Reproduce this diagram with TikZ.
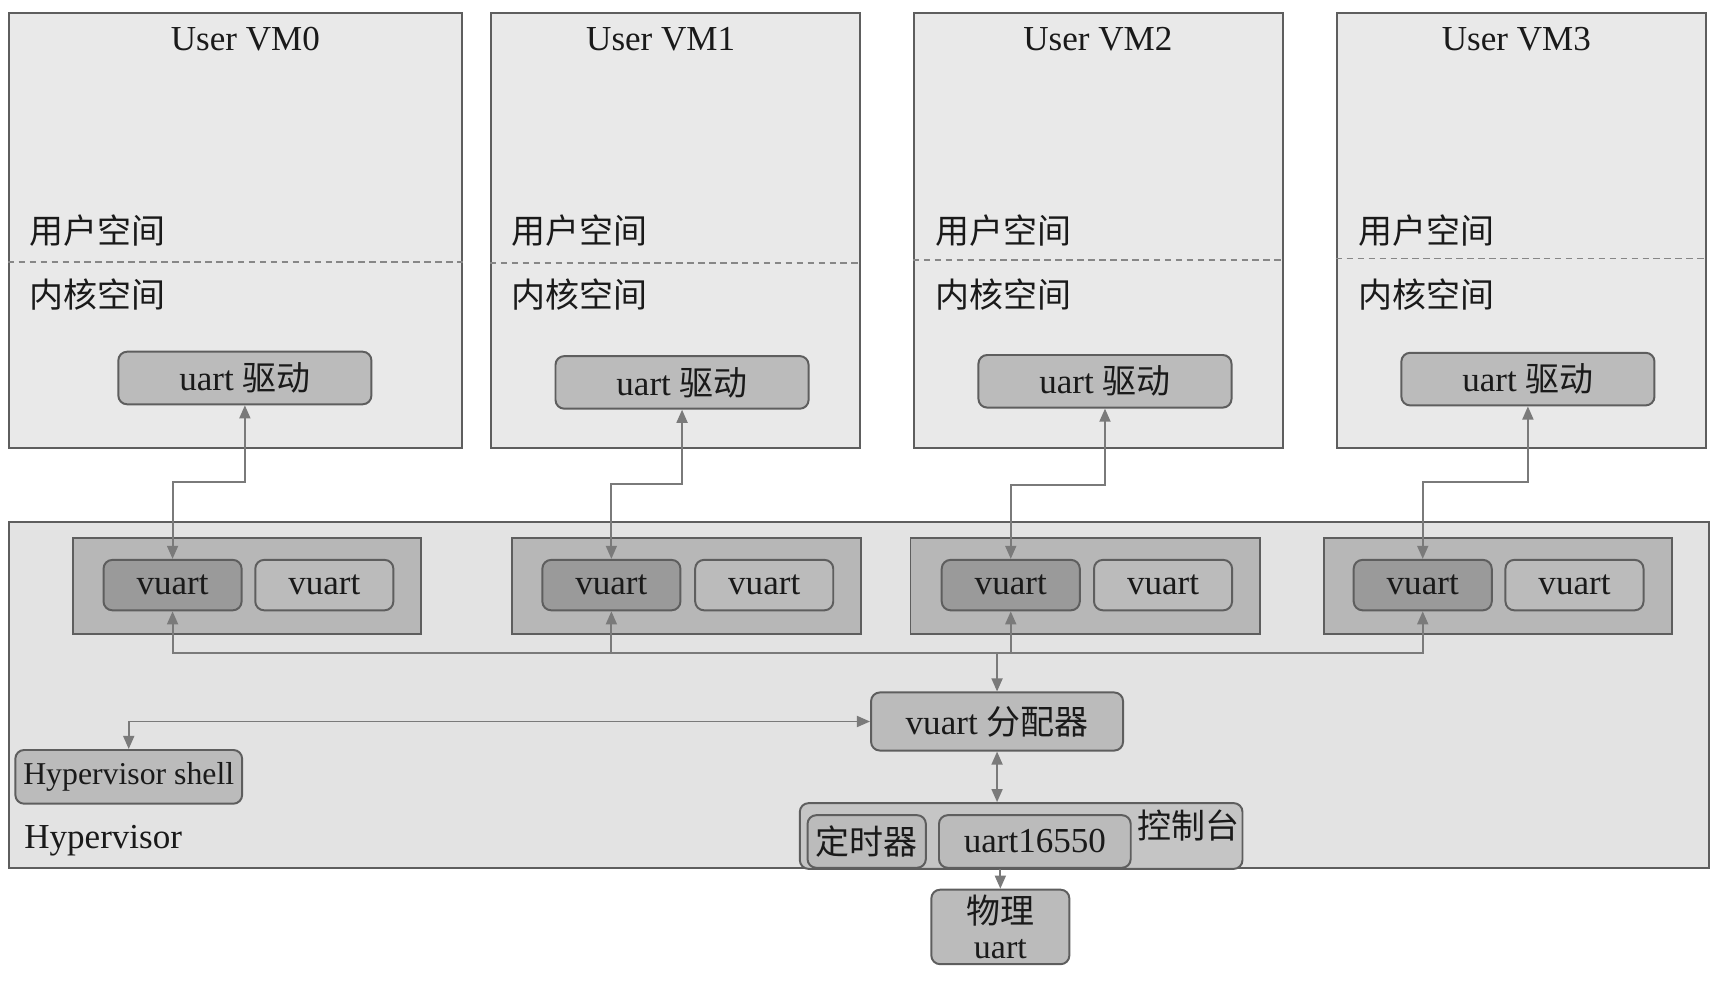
\documentclass[tikz,border=0pt]{standalone}
\usepackage{fontspec}
\setmainfont{Liberation Serif}
\newfontfamily\cjk{Noto Sans CJK SC}
\usetikzlibrary{arrows.meta}
\definecolor{vmfill}{HTML}{E9E9E9}
\definecolor{hvfill}{HTML}{E3E3E3}
\definecolor{grpfill}{HTML}{B7B7B7}
\definecolor{boxfill}{HTML}{BBBBBB}
\definecolor{darkfill}{HTML}{9A9A9A}
\definecolor{edge}{HTML}{5E5E5E}
\definecolor{conn}{HTML}{7A7A7A}
\definecolor{txt}{HTML}{1A1A1A}
\tikzset{
  vmbox/.style={draw=edge, line width=1.8pt, fill=vmfill, inner sep=0pt, minimum width=337pt, minimum height=397pt},
  hvbox/.style={draw=edge, line width=1.8pt, fill=hvfill, inner sep=0pt},
  grpbox/.style={draw=edge, line width=1.8pt, fill=grpfill, inner sep=0pt, minimum height=88pt},
  rbox/.style={draw=edge, line width=1.8pt, fill=boxfill, rounded corners=8pt, inner sep=0pt, text=txt, font=\fontsize{32}{36}\selectfont},
  dbox/.style={rbox, fill=darkfill},
  lbl/.style={inner sep=0pt, text=txt, font=\fontsize{32}{36}\selectfont},
  cjklbl/.style={inner sep=0pt, text=txt, font=\fontsize{31}{36}\selectfont\cjk},
  cn/.style={draw=conn, line width=1.8pt, {Triangle[length=12pt,width=10pt]}-{Triangle[length=12pt,width=10pt]}},
  cnin/.style={draw=conn, line width=1.8pt, {Triangle[length=12pt,width=10pt]}-},
  cnout/.style={draw=conn, line width=1.8pt, -{Triangle[length=12pt,width=10pt]}},
  sep/.style={draw=conn!90, line width=1.5pt, dash pattern=on 6pt off 4pt},
}
\begin{document}
\begin{tikzpicture}[x=1pt,y=-1pt]
\useasboundingbox[fill=white] (0,0) rectangle (1568,895);

% User VMs
\node[vmbox, minimum width=414pt] (vm0) at (215,210.5) {};
\node[vmbox] (vm1) at (616.5,210.5) {};
\node[vmbox] (vm2) at (1002.5,210.5) {};
\node[vmbox] (vm3) at (1388.5,210.5) {};

\node[lbl] (t0) at (224,36) {User VM0};
\node[lbl] (t1) at (603,36) {User VM1};
\node[lbl] (t2) at (1002,36) {User VM2};
\node[lbl] (t3) at (1384,36) {User VM3};

\foreach \v/\x/\y in {vm0/27/239, vm1/467/240, vm2/854/237, vm3/1240/236}{
  \node[cjklbl, anchor=west] (\v-us) at (\x,210) {用户空间};
  \node[cjklbl, anchor=west] (\v-ks) at (\x,269) {内核空间};
  \draw[sep] (\v.west |- 0,\y) -- (\v.east |- 0,\y);
}

\node[rbox, minimum width=231pt, minimum height=48pt] (d0) at (223.5,345) {uart {\cjk\fontsize{31}{36}\selectfont 驱动}};
\node[rbox, minimum width=231pt, minimum height=48pt] (d1) at (622.5,349) {uart {\cjk\fontsize{31}{36}\selectfont 驱动}};
\node[rbox, minimum width=231pt, minimum height=48pt] (d2) at (1008.5,348) {uart {\cjk\fontsize{31}{36}\selectfont 驱动}};
\node[rbox, minimum width=231pt, minimum height=48pt] (d3) at (1394.5,346) {uart {\cjk\fontsize{31}{36}\selectfont 驱动}};

% Hypervisor
\node[hvbox, minimum width=1552pt, minimum height=316pt] (hv) at (784,634) {};
\node[lbl, anchor=west] (hvl) at (22,767) {Hypervisor};

\node[grpbox, minimum width=317pt] (g0) at (225.5,535) {};
\node[grpbox, minimum width=319pt] (g1) at (626.5,535) {};
\node[grpbox, minimum width=319pt] (g2) at (990.5,535) {};
\node[grpbox, minimum width=318pt] (g3) at (1367,535) {};

\foreach \i/\dx/\lx in {0/157.5/296, 1/558/697.5, 2/922.5/1061.5, 3/1298.5/1437}{
  \node[dbox, minimum width=126pt, minimum height=46pt] (v\i) at (\dx,534) {vuart};
  \node[rbox, minimum width=126pt, minimum height=46pt] (w\i) at (\lx,534) {vuart};
}

% upper connectors
\coordinate (k0) at (157.5,440);
\coordinate (k1) at (558,442);
\coordinate (k2) at (922.5,443);
\coordinate (k3) at (1298.5,440);
\foreach \i in {0,1,2,3}{
  \draw[cn] (d\i.south) |- (k\i) -- (v\i.north);
}

% allocator
\node[rbox, minimum width=230pt, minimum height=53pt] (al) at (910,658.5) {vuart {\cjk\fontsize{31}{36}\selectfont 分配器}};
\coordinate (hub) at (910,596);
\foreach \i in {0,1,2,3}{
  \draw[cnin] (v\i.south) |- (hub);
}
\draw[cnout] (hub) -- (al.north);

\node[rbox, minimum width=207pt, minimum height=49pt, font=\fontsize{29}{32}\selectfont] (sh) at (117.5,709) {Hypervisor shell};
\draw[cn] (sh.north) |- (al.west);

% console
\node[rbox, fill=boxfill!85!white, minimum width=404pt, minimum height=60pt] (con) at (932,763) {};
\node[cjklbl] (conl) at (1085,753) {控制台};
\node[rbox, minimum width=108pt, minimum height=48pt, font=\fontsize{31}{36}\selectfont\cjk] (tm) at (791,768) {定时器};
\node[rbox, minimum width=175pt, minimum height=48pt] (u16) at (944.5,768) {uart16550};
\draw[cn] (al.south) -- (al.south |- con.north);

\node[rbox, minimum width=126pt, minimum height=68pt, align=center, font=\fontsize{31}{32}\selectfont] (ph) at (913,846) {{\cjk 物理}\\uart};
\draw[cnout] (ph.north |- u16.south) -- (ph.north);
\end{tikzpicture}
\end{document}
